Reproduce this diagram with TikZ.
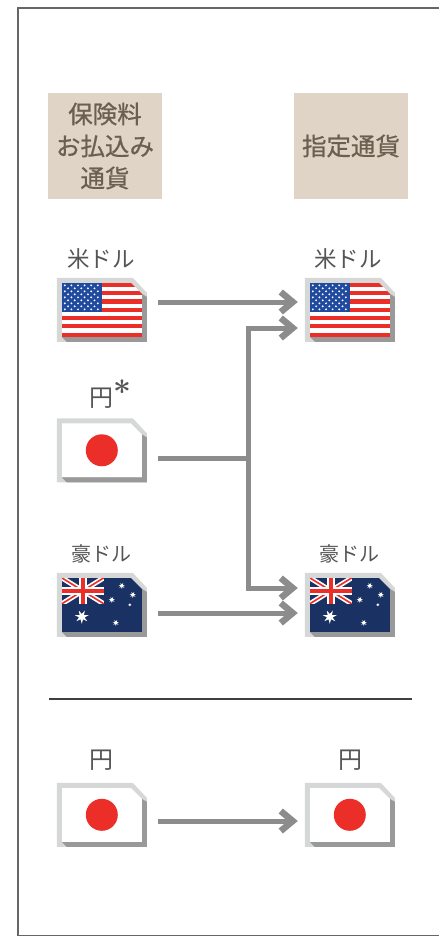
\documentclass[tikz,border=0pt]{standalone}
\usepackage{fontspec}
\setmainfont{Noto Sans CJK JP}
\newfontfamily\headjp[FakeBold=0.8]{Noto Sans CJK JP}
\usetikzlibrary{arrows.meta}
\definecolor{headfill}{HTML}{E0D4C6}
\definecolor{headtext}{HTML}{6B5F50}
\definecolor{labeltext}{HTML}{555555}
\definecolor{framegray}{HTML}{666666}
\definecolor{cardlight}{HTML}{D6D8D7}
\definecolor{carddark}{HTML}{999999}
\definecolor{connectgray}{HTML}{8C8C8C}
\definecolor{flagred}{HTML}{EC2E29}
\definecolor{usblue}{HTML}{1F4A9E}
\definecolor{aunavy}{HTML}{1A3263}
\tikzset{
  headbox/.style={fill=headfill, text=headtext, minimum width=114, minimum height=106, inner sep=0, align=center, font=\headjp\fontsize{24.5}{32}\selectfont},
  cardbox/.style={minimum width=90, minimum height=64, inner sep=0},
  yenlabel/.style={text=labeltext, inner sep=0, font=\fontsize{24}{28}\selectfont},
  curlabel/.style={yenlabel, font=\fontsize{22.5}{28}\selectfont},
  curlabelsmall/.style={yenlabel, font=\fontsize{20}{24}\selectfont},
  connect/.style={draw=connectgray, line width=5, line join=miter},
  connectarrow/.style={connect, -{Straight Barb[length=12pt, width=20pt, line width=6.5pt]}}
}
\newcommand\usflag{
  \fill[white] (0,0) rectangle (80,54);
  \foreach \i in {0,2,...,12}
    \fill[flagred] (0,{\i*54/13}) rectangle (80,{(\i+1)*54/13});
  \fill[usblue] (0,0) rectangle (40,29);
  \foreach \i in {0,...,8}{
    \pgfmathsetmacro\sx{mod(\i,2)==0 ? 3 : 6.3}
    \foreach \j in {0,...,5}{
      \pgfmathparse{\sx+\j*6.6<38 ? 1 : 0}
      \ifnum\pgfmathresult=1
        \fill[white] ({\sx+\j*6.6},{2.5+\i*3}) circle (1.05);
      \fi
    }
  }
}
\newcommand\austar[3]{
  \fill[white, shift={(#1,#2)}] (90:#3)
    \foreach \k in {1,...,13}{ -- ({90+\k*360/14}:{#3*(0.7+0.3*cos(\k*180))}) } -- cycle;
}
\newcommand\auflag{
  \fill[aunavy] (0,0) rectangle (80,54);
  \begin{scope}
    \clip (0,0) rectangle (42,26);
    \draw[white, line width=5] (0,0) -- (42,26) (0,26) -- (42,0);
    \draw[flagred, line width=1.6] (0,0) -- (42,26) (0,26) -- (42,0);
    \draw[white, line width=8] (21,0) -- (21,26) (0,13) -- (42,13);
    \draw[flagred, line width=4.5] (21,0) -- (21,26) (0,13) -- (42,13);
  \end{scope}
  \austar{20}{39}{7}
  \austar{60}{8}{3.2}
  \austar{71}{17}{3.2}
  \austar{50}{22}{3.2}
  \austar{68}{27}{1.6}
  \austar{54}{45}{3.2}
}
\newcommand\jpflag{
  \fill[white] (0,0) rectangle (80,54);
  \fill[flagred] (40,27) circle (16);
}
% card: bevelled frame, cut corner, flag inside
\newcommand\flagcard[3]{
  \node[cardbox] (#1) at (#2) {};
  \begin{scope}[shift={(#1.north west)}]
    \fill[cardlight] (0,0) -- (76,0) -- (90,15) -- (90,64) -- (0,64) -- cycle;
    \fill[carddark] (90,19) -- (90,64) -- (10,64) -- (5,59) -- (85,59) -- (85,16) -- cycle;
    \begin{scope}[shift={(5,5)}]
      \clip (0,0) -- (69,0) -- (80,11) -- (80,54) -- (0,54) -- cycle;
      #3
    \end{scope}
  \end{scope}
}

\begin{document}
\begin{tikzpicture}[x=1pt, y=-1pt]
	\useasboundingbox (0,0) rectangle (439,936);
	\draw[framegray, line width=2] (439,8)--(18,8)--(18,935.5)--(439,935.5);
	\node[headbox] (payhead) at (105,146) {保険料\\お払込み\\通貨};
	\node[headbox] (targethead) at (351,146) {指定通貨};
	% top rows
	\node[curlabel] (usdleftlabel) at (101,259) {米ドル};
	\node[curlabel] (usdrightlabel) at (348,259) {米ドル};
	\flagcard{usdleft}{102,310}{\usflag}
	\flagcard{usdright}{350,310}{\usflag}
	\node[yenlabel, anchor=base west] (jpyleftlabel) at (89,406) {円\raisebox{12pt}{\scalebox{1.25}{\fontsize{32}{32}\selectfont\boldmath$\ast$}}};
	\flagcard{jpyleft}{102,450.5}{\jpflag}
	\node[curlabelsmall] (audleftlabel) at (101,554) {豪ドル};
	\node[curlabelsmall] (audrightlabel) at (349,554) {豪ドル};
	\flagcard{audleft}{102,605}{\auflag}
	\flagcard{audright}{350,605}{\auflag}
	% connectors
	\coordinate (junction) at (248,458);
	\coordinate (upperin) at ([xshift=-7, yshift=-18]usdright.west);
	\coordinate (lowerin) at ([xshift=-7, yshift=17]audright.west);
	\draw[connectarrow] ([xshift=11, yshift=8]usdleft.east) -- ([xshift=-7, yshift=8]usdright.west);
	\draw[connectarrow] ([xshift=11, yshift=-8]audleft.east) -- ([xshift=-7, yshift=-8]audright.west);
	\draw[connect] ([xshift=11, yshift=-7.5]jpyleft.east) -- (junction);
	\draw[connectarrow] (junction) |- (upperin);
	\draw[connectarrow] (junction) |- (lowerin);
	% divider and bottom row
	\coordinate (divleft) at (49,699);
	\coordinate (divright) at (412,699);
	\draw[black!75, line width=1.5] (divleft) -- (divright);
	\node[yenlabel] (jpybottomleftlabel) at (101,760) {円};
	\node[yenlabel] (jpybottomrightlabel) at (350,760) {円};
	\flagcard{jpybottomleft}{102,815}{\jpflag}
	\flagcard{jpybottomright}{350,815}{\jpflag}
	\draw[connectarrow] ([xshift=11, yshift=-6]jpybottomleft.east) -- ([xshift=-7, yshift=-6]jpybottomright.west);
\end{tikzpicture}
\end{document}
